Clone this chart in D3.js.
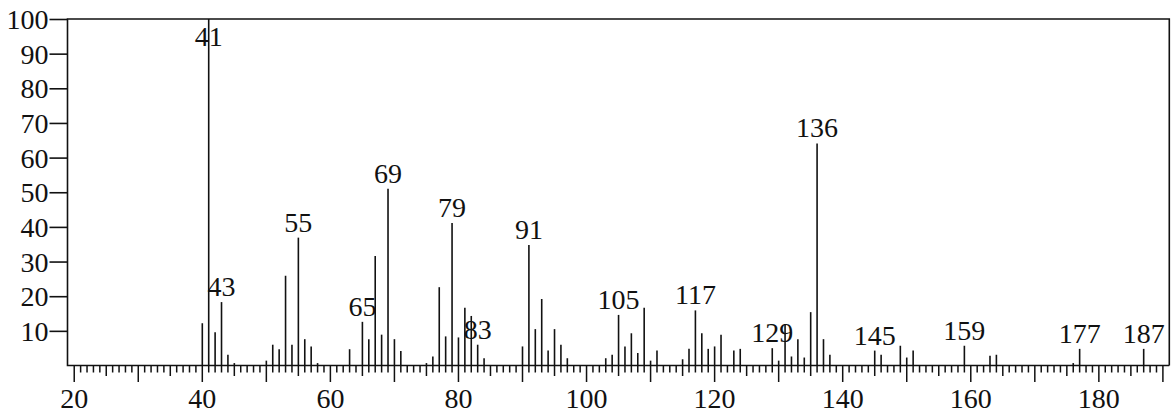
<!DOCTYPE html>
<html>
<head>
<meta charset="utf-8">
<script src="https://cdn.jsdelivr.net/npm/d3@7"></script>
<style>
	body { margin: 0; background: #fff; }
</style>
</head>
<body>
<div id="chart"></div>
<script>

// m/z of each peak and its relative intensity (%)
var mz = [40,41,42,43,44,45,50,51,52,53,54,55,56,57,58,63,65,66,67,68,69,70,71,
	75,76,77,78,79,80,81,82,83,84,90,91,92,93,94,95,96,97,103,104,105,106,107,108,
	109,110,111,115,116,117,118,119,120,121,123,124,129,130,131,132,133,134,135,
	136,137,138,145,146,149,150,151,159,163,164,176,177,187];

var intensity = [12.2,100,9.6,18.3,3.1,0.7,1.4,6.0,4.7,25.9,6.0,36.9,7.6,5.5,0.7,
	4.7,12.6,7.6,31.6,8.9,51.0,7.6,4.2,0.7,2.6,22.6,8.4,41.1,8.1,16.7,14.3,6.0,2.1,
	5.5,34.8,10.5,19.2,4.3,10.5,6.0,2.1,2.1,3.1,14.6,5.5,9.3,3.6,16.7,1.4,4.3,1.8,
	4.8,15.9,9.3,4.8,5.5,8.9,4.3,4.8,5.0,1.4,12.0,2.6,7.6,2.3,15.4,64.1,7.6,3.1,
	4.3,3.1,5.7,2.3,4.3,5.7,2.8,3.1,0.7,4.8,4.8];

// peaks that carry a label
var labeled = [41,43,55,65,69,79,83,91,105,117,129,136,145,159,177,187];

var yTicks = [10,20,30,40,50,60,70,80,90,100];
var xLabels = [20,40,60,80,100,120,140,160,180];

var width = 1176, height = 418;
var font = "'Liberation Serif'";
var fontSize = "28px";
var ink = "#111";

var svg = d3.select("#chart")
	.append("svg")
	.attr("width", width)
	.attr("height", height);

var x = d3.scaleLinear().domain([18.95, 191]).range([67.5, 1169.3]);
var y = d3.scaleLinear().domain([0, 100]).range([365.5, 19]);

// frame: baseline, left, top and right
svg.append("path")
	.attr("d", "M" + x(191) + "," + y(0) + "H" + x(18.95) + "V" + y(100) + "H" + x(191) + "V" + y(0))
	.attr("fill", "none")
	.attr("stroke", ink)
	.attr("stroke-width", 1.6);

// y ticks (outward) and labels
var yAxis = d3.axisLeft(y).tickValues(yTicks).tickSize(18).tickPadding(1);
var gy = svg.append("g")
	.attr("transform", "translate(" + x(18.95) + ",0)")
	.call(yAxis);
gy.select(".domain").remove();
gy.selectAll("line").attr("stroke", ink).attr("stroke-width", 1.6);
gy.selectAll("text")
	.style("font-family", font)
	.style("font-size", fontSize)
	.style("fill", ink)
	.attr("dy", "0.34em");

// x ticks: minor every 1, medium every 5, long every 10
var xTicks = d3.range(20, 191, 1);
svg.append("g")
	.selectAll("line")
	.data(xTicks)
	.enter()
	.append("line")
	.attr("x1", function(d) { return x(d); })
	.attr("x2", function(d) { return x(d); })
	.attr("y1", y(0))
	.attr("y2", function(d) {
		if (d % 10 === 0) return y(0) + 16.5;
		if (d % 5 === 0) return y(0) + 10.5;
		return y(0) + 7;
	})
	.attr("stroke", ink)
	.attr("stroke-width", 1.5);

svg.append("g")
	.selectAll("text")
	.data(xLabels)
	.enter()
	.append("text")
	.attr("x", function(d) { return x(d); })
	.attr("y", 408)
	.attr("text-anchor", "middle")
	.style("font-family", font)
	.style("font-size", fontSize)
	.style("fill", ink)
	.text(function(d) { return d; });

// peaks
var peaks = mz.map(function(m, i) { return { mz: m, v: intensity[i] }; });

svg.append("g")
	.selectAll("line")
	.data(peaks)
	.enter()
	.append("line")
	.attr("x1", function(d) { return x(d.mz); })
	.attr("x2", function(d) { return x(d.mz); })
	.attr("y1", y(0))
	.attr("y2", function(d) { return y(d.v); })
	.attr("stroke", ink)
	.attr("stroke-width", 1.6);

// peak labels, kept inside the frame
svg.append("g")
	.selectAll("text")
	.data(peaks.filter(function(d) { return labeled.indexOf(d.mz) >= 0; }))
	.enter()
	.append("text")
	.attr("x", function(d) { return x(d.mz); })
	.attr("y", function(d) { return Math.max(y(d.v) - 6, y(100) + 27); })
	.attr("text-anchor", "middle")
	.style("font-family", font)
	.style("font-size", fontSize)
	.style("fill", ink)
	.text(function(d) { return d.mz; });

</script>
</body>
</html>
